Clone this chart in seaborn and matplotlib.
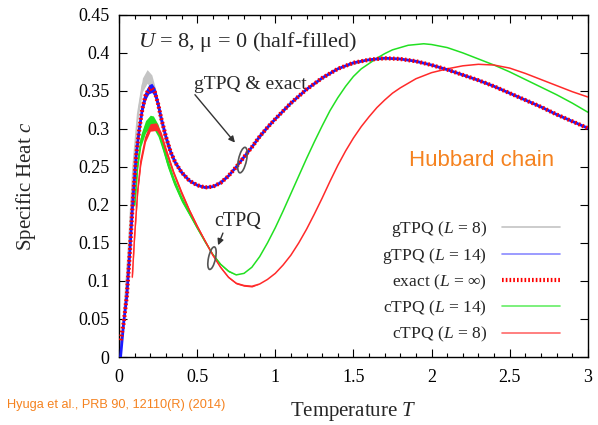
import matplotlib.pyplot as plt
import matplotlib.transforms as mtransforms
from matplotlib.lines import Line2D
from matplotlib.patches import Ellipse
from matplotlib.ticker import MultipleLocator, FuncFormatter
import seaborn as sns

# ---------------------------------------------------------------------------
# Dati: temperatura T e calore specifico c
# ---------------------------------------------------------------------------

# exact (L = inf); gTPQ (L = 14) usa la stessa griglia
T_exact = [0.01, 0.03, 0.05, 0.07, 0.09, 0.11, 0.13, 0.15, 0.17, 0.19,
           0.21, 0.23, 0.25, 0.27, 0.30, 0.33, 0.36, 0.40, 0.45, 0.50,
           0.55, 0.60, 0.65, 0.70, 0.75, 0.80, 0.85, 0.90, 0.95, 1.00,
           1.10, 1.20, 1.30, 1.40, 1.50, 1.60, 1.70, 1.80, 1.90, 2.00,
           2.10, 2.20, 2.30, 2.40, 2.50, 2.60, 2.70, 2.80, 2.90, 3.00]
c_exact = [0.022, 0.045, 0.080, 0.140, 0.210, 0.265, 0.300, 0.327, 0.344, 0.352,
           0.354, 0.348, 0.333, 0.314, 0.290, 0.270, 0.256, 0.243, 0.232, 0.226,
           0.223, 0.224, 0.229, 0.238, 0.250, 0.263, 0.276, 0.290, 0.302, 0.313,
           0.334, 0.352, 0.367, 0.379, 0.387, 0.391, 0.393, 0.392, 0.389, 0.384,
           0.378, 0.371, 0.364, 0.356, 0.347, 0.338, 0.329, 0.319, 0.310, 0.301]
# gTPQ (L = 14): coincide con exact, tranne che parte da zero
c_g14 = [0.000] + c_exact[1:]
err_g14 = [0.0, 0.001, 0.002, 0.003, 0.003, 0.004, 0.005, 0.005, 0.006, 0.006,
           0.006, 0.006, 0.005, 0.005, 0.004, 0.003, 0.002, 0.002, 0.001, 0.001,
           0.001] + [0.0] * 29

# gTPQ (L = 8)
T_g8 = [0.00, 0.03, 0.06, 0.09, 0.12, 0.15, 0.18, 0.21, 0.24, 0.27,
        0.30, 0.35, 0.40, 0.45, 0.50, 0.55, 0.60, 0.70, 0.80, 1.00,
        1.20, 1.40, 1.60, 1.80, 2.00, 2.20, 2.40, 2.60, 2.80, 3.00]
c_g8 = [0.000, 0.050, 0.140, 0.250, 0.320, 0.358, 0.369, 0.362, 0.340, 0.310,
        0.285, 0.258, 0.243, 0.232, 0.226, 0.223, 0.224, 0.238, 0.263, 0.313,
        0.352, 0.379, 0.391, 0.392, 0.384, 0.371, 0.356, 0.338, 0.319, 0.301]
err_g8 = [0.0, 0.003, 0.005, 0.007, 0.008, 0.009, 0.009, 0.009, 0.008, 0.007,
          0.006, 0.004, 0.003, 0.002, 0.001] + [0.0] * 15

# cTPQ (L = 14)
T_c14 = [0.10, 0.12, 0.14, 0.17, 0.20, 0.22, 0.25, 0.28, 0.31, 0.35,
         0.40, 0.45, 0.50, 0.55, 0.60, 0.65, 0.70, 0.75, 0.80, 0.85,
         0.90, 0.95, 1.00, 1.05, 1.10, 1.15, 1.20, 1.25, 1.30, 1.35,
         1.40, 1.45, 1.50, 1.55, 1.60, 1.65, 1.70, 1.75, 1.80, 1.85,
         1.90, 1.95, 2.00, 2.10, 2.20, 2.30, 2.40, 2.50, 2.60, 2.70,
         2.80, 2.90, 3.00]
c_c14 = [0.200, 0.255, 0.285, 0.303, 0.310, 0.309, 0.298, 0.278, 0.256, 0.232,
         0.208, 0.189, 0.170, 0.152, 0.135, 0.122, 0.113, 0.108, 0.110, 0.118,
         0.132, 0.150, 0.170, 0.192, 0.215, 0.238, 0.261, 0.283, 0.304, 0.324,
         0.341, 0.356, 0.369, 0.379, 0.386, 0.393, 0.399, 0.404, 0.407, 0.410,
         0.411, 0.412, 0.411, 0.407, 0.400, 0.392, 0.384, 0.375, 0.365, 0.355,
         0.345, 0.334, 0.322]
err_c14 = [0.006, 0.007, 0.008, 0.008, 0.008, 0.008, 0.008, 0.007, 0.006, 0.005,
           0.004, 0.003, 0.002, 0.002, 0.001, 0.001, 0.001] + [0.0] * 36

# cTPQ (L = 8)
T_c8 = [0.085, 0.10, 0.12, 0.14, 0.17, 0.20, 0.24, 0.27, 0.30, 0.35,
        0.40, 0.45, 0.50, 0.55, 0.60, 0.65, 0.70, 0.75, 0.80, 0.85,
        0.90, 0.95, 1.00, 1.05, 1.10, 1.15, 1.20, 1.25, 1.30, 1.35,
        1.40, 1.45, 1.50, 1.55, 1.60, 1.65, 1.70, 1.75, 1.80, 1.85,
        1.90, 1.95, 2.00, 2.10, 2.20, 2.30, 2.40, 2.50, 2.60, 2.70,
        2.80, 2.90, 3.00]
c_c8 = [0.105, 0.160, 0.220, 0.258, 0.288, 0.302, 0.303, 0.292, 0.272, 0.242,
        0.216, 0.193, 0.172, 0.153, 0.134, 0.118, 0.105, 0.097, 0.094, 0.093,
        0.096, 0.102, 0.110, 0.121, 0.134, 0.150, 0.168, 0.188, 0.209, 0.231,
        0.252, 0.271, 0.288, 0.303, 0.316, 0.328, 0.338, 0.347, 0.354, 0.360,
        0.366, 0.370, 0.374, 0.379, 0.383, 0.385, 0.384, 0.380, 0.373, 0.365,
        0.357, 0.349, 0.342]
err_c8 = [0.003, 0.004, 0.004, 0.005, 0.005, 0.005, 0.005, 0.004, 0.004, 0.003,
          0.003, 0.002, 0.002, 0.001, 0.001, 0.001, 0.001, 0.001, 0.001, 0.001] + [0.0] * 33

legend_labels = ["gTPQ ($L$ = 8)", "gTPQ ($L$ = 14)", "exact ($L$ = \u221e)",
                 "cTPQ ($L$ = 14)", "cTPQ ($L$ = 8)"]

ORANGE = "#f5821f"
GRAY = "#c4c4c4"
BLUE = "#1a1aff"
GREEN = "#22e022"
RED = "#ff2a2a"

# ---------------------------------------------------------------------------
# Stile
# ---------------------------------------------------------------------------

sns.set_theme(style="ticks")
plt.rcParams["font.family"] = ["Liberation Serif", "DejaVu Serif"]
plt.rcParams["mathtext.fontset"] = "custom"
plt.rcParams["mathtext.rm"] = "Liberation Serif"
plt.rcParams["mathtext.it"] = "Liberation Serif:italic"

fig = plt.figure(figsize=(5.98, 4.25), dpi=100)
ax = fig.add_axes([0.199, 0.16, 0.784, 0.805])


def band(T, c, err, color, z):
    lo = [v - e for v, e in zip(c, err)]
    hi = [v + e for v, e in zip(c, err)]
    ax.fill_between(T, lo, hi, color=color, lw=0, zorder=z)


band(T_g8, c_g8, err_g8, GRAY, 1)
sns.lineplot(x=T_g8, y=c_g8, ax=ax, color=GRAY, lw=1.2, zorder=1)

band(T_c14, c_c14, err_c14, GREEN, 2)
sns.lineplot(x=T_c14, y=c_c14, ax=ax, color=GREEN, lw=1.1, zorder=2)

band(T_c8, c_c8, err_c8, RED, 3)
sns.lineplot(x=T_c8, y=c_c8, ax=ax, color=RED, lw=1.1, zorder=3)

band(T_exact, c_g14, err_g14, BLUE, 4)
sns.lineplot(x=T_exact, y=c_g14, ax=ax, color=BLUE, lw=2.0, zorder=4)

sns.lineplot(x=T_exact, y=c_exact, ax=ax, color="red", lw=3.0, zorder=5)
ax.lines[-1].set_dashes([0.4, 0.55])
ax.lines[-1].set_dash_capstyle("butt")

# ---------------------------------------------------------------------------
# Assi
# ---------------------------------------------------------------------------

ax.set_xlim(0, 3)
ax.set_ylim(0, 0.45)
ax.xaxis.set_major_locator(MultipleLocator(0.5))
ax.xaxis.set_minor_locator(MultipleLocator(0.1))
ax.yaxis.set_major_locator(MultipleLocator(0.05))
fmt = FuncFormatter(lambda v, _: f"{v:g}")
ax.xaxis.set_major_formatter(fmt)
ax.yaxis.set_major_formatter(fmt)
ax.tick_params(which="both", direction="in", top=True, right=True,
               colors="black", labelsize=13, width=0.8)
ax.tick_params(which="major", length=6)
ax.tick_params(axis="x", which="major", pad=9)
ax.tick_params(axis="y", which="major", pad=7)
ax.tick_params(which="minor", length=3)
ax.tick_params(axis="y", which="minor", left=False, right=False)
for s in ax.spines.values():
    s.set_color("black")
    s.set_linewidth(1.0)

ax.set_xlabel("Temperature $T$", fontsize=15, labelpad=10)
ax.set_ylabel("Specific Heat $c$", fontsize=15, labelpad=29)

# ---------------------------------------------------------------------------
# Annotazioni
# ---------------------------------------------------------------------------

ax.text(0.12, 0.414, "$U$ = 8, \u03bc = 0 (half-filled)", fontsize=16,
        va="center", ha="left")
ax.text(0.84, 0.358, "gTPQ & exact", fontsize=14, va="center", ha="center")
ax.text(0.76, 0.178, "cTPQ", fontsize=14.5, va="center", ha="center")
ax.text(2.32, 0.259, "Hubbard chain", fontsize=16, color=ORANGE,
        family="Liberation Sans", va="center", ha="center")

arrow = dict(arrowstyle="-|>", color="#333333", lw=1.0, mutation_scale=9,
             shrinkA=0, shrinkB=0)
ax.annotate("", xy=(0.742, 0.282), xytext=(0.486, 0.345), arrowprops=arrow)
ax.annotate("", xy=(0.634, 0.147), xytext=(0.665, 0.163), arrowprops=arrow)

for (xc, yc, w, h) in [(0.79, 0.259, 0.08, 0.26), (0.595, 0.13, 0.07, 0.23)]:
    tr = fig.dpi_scale_trans + mtransforms.ScaledTranslation(xc, yc, ax.transData)
    ax.add_patch(Ellipse((0, 0), w, h, angle=-12, fill=False,
                         edgecolor="#555555", lw=1.2, transform=tr, zorder=6))

handles = [
    Line2D([], [], color=GRAY, lw=1.2),
    Line2D([], [], color="#8a8aff", lw=1.2),
    Line2D([], [], color="red", lw=3.0, dashes=[0.4, 0.5], dash_capstyle="butt"),
    Line2D([], [], color="#66ee66", lw=1.2),
    Line2D([], [], color="#ff6a6a", lw=1.2),
]
ax.legend(handles, legend_labels, loc="lower right", frameon=False,
          markerfirst=False, fontsize=12.6, handlelength=3.3, handletextpad=0.85,
          labelspacing=0.4, borderaxespad=0, borderpad=0,
          bbox_to_anchor=(0.94, 0.037))

fig.text(7 / 598, 1 - 405 / 425, "Hyuga et al., PRB 90, 12110(R) (2014)",
         fontsize=9.2, color=ORANGE, family="Liberation Sans", va="center")

fig.savefig("out.png", dpi=100)
